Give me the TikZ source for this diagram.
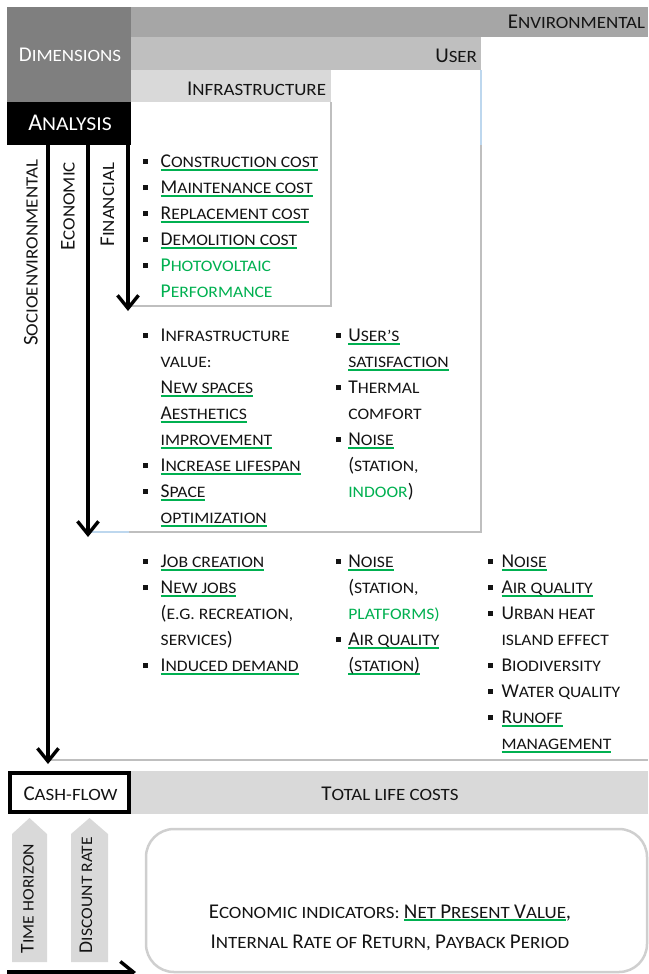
\documentclass[tikz,border=0pt]{standalone}
\usepackage{fontspec}
\setmainfont{Carlito}
\usetikzlibrary{arrows.meta}
\definecolor{ulg}{HTML}{00B050}
\definecolor{gA}{HTML}{7F7F7F}
\definecolor{gB}{HTML}{A6A6A6}
\definecolor{gC}{HTML}{BFBFBF}
\definecolor{gD}{HTML}{D9D9D9}
\definecolor{gE}{HTML}{CFCFCF}
\definecolor{lb}{HTML}{BDD7EE}
\definecolor{txt}{HTML}{141414}
\makeatletter
\newcommand\sm[1]{{\fontsize{\fpeval{0.82*\f@size}}{\baselineskip}\selectfont\addfontfeatures{FakeStretch=1.1}\MakeUppercase{#1}}}
\makeatother
\newcommand\lsz{\fontsize{19.5}{26}\selectfont}
\newcommand\hsz{\fontsize{21}{26}\selectfont}
\newcommand\gul[1]{\setbox0\hbox{#1}\rlap{\color{ulg}\rule[-3.4pt]{\wd0}{2pt}}\box0}
\newlength\bulw
\newcommand\bul{\makebox[\bulw][l]{\rule[3.3pt]{5pt}{5pt}}}
\newcommand\nob{\hspace*{\bulw}}
\begin{document}
\begin{tikzpicture}[x=1pt,y=-1pt,
  every node/.style={inner sep=0pt, outer sep=0pt, text=txt},
  box/.style={anchor=north west, draw=none},
  frame/.style={draw=gC, line width=2pt},
  flow/.style={line width=4pt, -{Straight Barb[length=13pt,width=21pt,line width=3.4pt]}},
  blockarrow/.style={fill=gD}]
\useasboundingbox (0,0) rectangle (648,974);
% header bars
\node[box, fill=gB, minimum width=517pt, minimum height=30pt] (envbar) at (131,7) {};
\node[box, fill=gC, minimum width=350pt, minimum height=33pt] (userbar) at (131,37) {};
\node[box, fill=gD, minimum width=200pt, minimum height=32pt] (infrabar) at (131,70) {};
\node[box, fill=gA, minimum width=124pt, minimum height=95pt] (dim) at (7,7) {};
\node[box, fill=black, minimum width=124pt, minimum height=43pt] (ana) at (7,102) {};
\node[anchor=base east] (envlab) at (645,29) {\hsz E\sm{nvironmental}};
\node[anchor=base east] (userlab) at (477,63) {\hsz U\sm{ser}};
\node[anchor=base east] (infralab) at (326,95) {\hsz I\sm{nfrastructure}};
\node[anchor=base, text=white] (dimlab) at (70,62) {\hsz D\sm{imensions}};
\node[anchor=base, text=white] (analab) at (70,130) {\fontsize{24}{26}\selectfont A\sm{nalysis}};
% frames
\draw[frame] (331,102) -- (331,306) -- (128,306);
\draw[frame] (481,145) -- (481,532) -- (129,532);
\draw[frame, draw=lb] (481,70) -- (481,145);
\draw[frame, draw=lb] (129,532) -- (88,532);
\draw[frame] (48,760) -- (648,760);
% analysis arrows
\coordinate (fin0) at (128,145); \coordinate (fin1) at (128,311);
\coordinate (eco0) at (88,145); \coordinate (eco1) at (88,537);
\coordinate (soc0) at (48,145); \coordinate (soc1) at (48,764);
\draw[flow] (fin0) -- (fin1);
\draw[flow] (eco0) -- (eco1);
\draw[flow] (soc0) -- (soc1);
\node[rotate=90, anchor=east] (soclab) at (31,160) {\hsz S\sm{ocioenvironmental}};
\node[rotate=90, anchor=east] (ecolab) at (68,162) {\hsz E\sm{conomic}};
\node[rotate=90, anchor=east] (finlab) at (107.5,163) {\hsz F\sm{inancial}};
% infrastructure list
\node[anchor=base west] (infralist) at (143,167.3) {\setlength\bulw{17.7pt}\parbox[t]{190pt}{\lsz\raggedright
\bul\gul{C\sm{onstruction cost}}\\
\bul\gul{M\sm{aintenance cost}}\\
\bul\gul{R\sm{eplacement cost}}\\
\bul\gul{D\sm{emolition cost}}\\
\bul{\color{ulg}P\sm{hotovoltaic}}\\
\nob{\color{ulg}P\sm{erformance}}}};
% user lists
\node[anchor=base west] (userA) at (143,341.3) {\setlength\bulw{17.7pt}\parbox[t]{190pt}{\lsz\raggedright
\bul I\sm{nfrastructure}\\
\nob\sm{value:}\\
\nob\gul{N\sm{ew spaces}}\\
\nob\gul{A\sm{esthetics}}\\
\nob\gul{\sm{improvement}}\\
\bul\gul{I\sm{ncrease lifespan}}\\
\bul\gul{S\sm{pace}}\\
\nob\gul{\sm{optimization}}}};
\node[anchor=base west] (userB) at (335.5,341.3) {\setlength\bulw{12.8pt}\parbox[t]{140pt}{\lsz\raggedright
\bul\gul{U\sm{ser’s}}\\
\nob\gul{\sm{satisfaction}}\\
\bul T\sm{hermal}\\
\nob\sm{comfort}\\
\bul\gul{N\sm{oise}}\\
\nob(\sm{station,}\\
\nob{\color{ulg}\sm{indoor}})}};
% environmental lists
\node[anchor=base west] (envA) at (143,567.3) {\setlength\bulw{17.7pt}\parbox[t]{190pt}{\lsz\raggedright
\bul\gul{J\sm{ob creation}}\\
\bul\gul{N\sm{ew jobs}}\\
\nob(\sm{e.g. recreation,}\\
\nob\sm{services})\\
\bul\gul{I\sm{nduced demand}}}};
\node[anchor=base west] (envB) at (335.5,567.3) {\setlength\bulw{12.8pt}\parbox[t]{140pt}{\lsz\raggedright
\bul\gul{N\sm{oise}}\\
\nob(\sm{station,}\\
\nob{\color{ulg}\sm{platforms)}}\\
\bul\gul{A\sm{ir quality}}\\
\nob\gul{(\sm{station})}}};
\node[anchor=base west] (envC) at (488,567.3) {\setlength\bulw{13.5pt}\parbox[t]{150pt}{\lsz\raggedright
\bul\gul{N\sm{oise}}\\
\bul\gul{A\sm{ir quality}}\\
\bul U\sm{rban heat}\\
\nob\sm{island effect}\\
\bul B\sm{iodiversity}\\
\bul W\sm{ater quality}\\
\bul\gul{R\sm{unoff}}\\
\nob\gul{\sm{management}}}};
% cash flow row
\node[box, fill=gD, minimum width=517pt, minimum height=43pt] (tlc) at (131,771) {};
\node[box, draw=black, line width=4pt, minimum width=119pt, minimum height=39pt] (cash) at (10,773) {};
\node[anchor=base] (cashlab) at (70.5,800) {\hsz C\sm{ash-flow}};
\node[anchor=base] (tlclab) at (390,800) {\hsz T\sm{otal life costs}};
% block arrows
\path[blockarrow] (12,962) -- (12,834) -- (29.5,818) -- (47,834) -- (47,962) -- cycle;
\path[blockarrow] (71,962) -- (71,834) -- (89.5,818) -- (108,834) -- (108,962) -- cycle;
\node[rotate=90, anchor=west] (timelab) at (27.5,953) {\lsz T\sm{ime horizon}};
\node[rotate=90, anchor=west] (disclab) at (86,953) {\lsz D\sm{iscount rate}};
\coordinate (bt0) at (7,972); \coordinate (bt1) at (136,972);
\draw[flow] (bt0) -- (bt1);
% indicators
\node[box, draw=gE, line width=2.5pt, rounded corners=28pt, minimum width=501pt, minimum height=143pt] (ind) at (146,829) {};
\node[anchor=base] (indA) at (390,918) {\hsz E\sm{conomic indicators: }\gul{N\sm{et }P\sm{resent }V\sm{alue}},};
\node[anchor=base] (indB) at (390,948) {\hsz I\sm{nternal }R\sm{ate of }R\sm{eturn, }P\sm{ayback }P\sm{eriod}};
\end{tikzpicture}
\end{document}
